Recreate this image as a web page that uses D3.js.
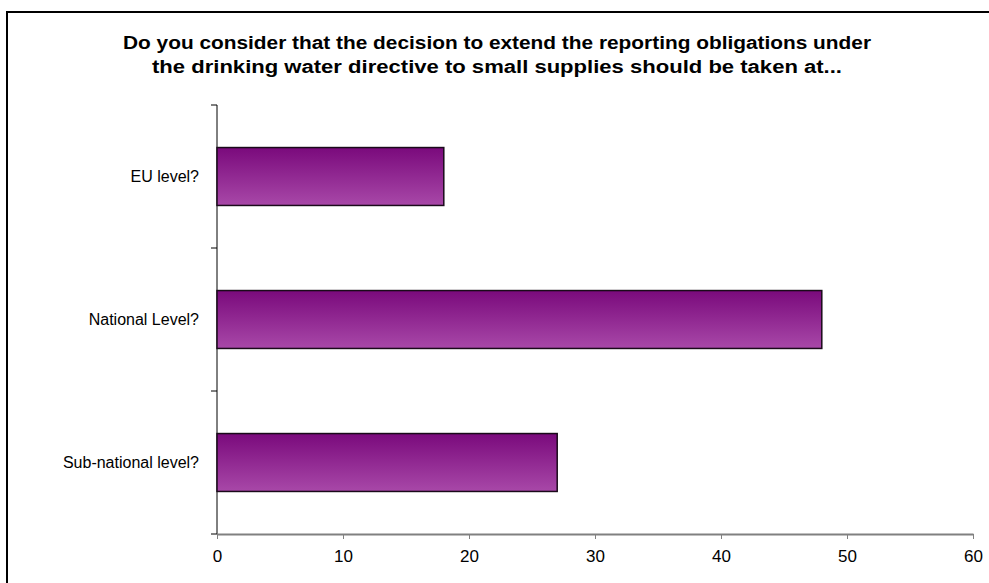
<!DOCTYPE html>
<html>
<head>
<meta charset="utf-8">
<script src="https://cdn.jsdelivr.net/npm/d3@7"></script>
<style>
  html, body { margin: 0; padding: 0; background: #fff; }
  svg { display: block; font-family: "Liberation Sans", Arial, sans-serif; }
</style>
</head>
<body>
<svg id="chart" width="989" height="583"></svg>
<script>
// Survey answers: where the decision should be taken
const categories = ["EU level?", "National Level?", "Sub-national level?"];
const values = [18, 48, 27];
const xTicks = [0, 10, 20, 30, 40, 50, 60];
const titleLines = [
  "Do you consider that the decision to extend the reporting obligations under",
  "the drinking water directive to small supplies should be taken at..."
];
const titleWidths = [748, 690];

const svg = d3.select("#chart");
const W = 989, H = 583;
const plot = { left: 217, right: 973, top: 105, bottom: 534 };

// Outer chart frame (runs past the right and bottom edges)
svg.append("rect")
  .attr("x", 7).attr("y", 12)
  .attr("width", W + 20).attr("height", H + 20)
  .attr("fill", "#fff")
  .attr("stroke", "#000")
  .attr("stroke-width", 2);

// Gradient fill for the bars
const defs = svg.append("defs");
const grad = defs.append("linearGradient")
  .attr("id", "barFill").attr("x1", 0).attr("y1", 0).attr("x2", 0).attr("y2", 1);
grad.append("stop").attr("offset", "0%").attr("stop-color", "#7a0a7c");
grad.append("stop").attr("offset", "100%").attr("stop-color", "#a848a8");

// Title, two centred lines
titleLines.forEach((line, i) => {
  svg.append("text")
    .attr("x", 497 - titleWidths[i] / 2)
    .attr("y", 49 + i * 24)
    .attr("font-weight", "bold")
    .attr("font-size", 18)
    .attr("fill", "#000")
    .attr("textLength", titleWidths[i])
    .attr("lengthAdjust", "spacingAndGlyphs")
    .text(line);
});

const x = d3.scaleLinear().domain([0, 60]).range([plot.left, plot.right]);
const y = d3.scaleBand().domain(categories)
  .range([plot.top, plot.bottom])
  .paddingInner(0.595).paddingOuter(0.2975);

// Y axis: line with ticks at band boundaries
const yLine = svg.append("g");
yLine.append("line")
  .attr("x1", plot.left).attr("x2", plot.left)
  .attr("y1", plot.top).attr("y2", plot.bottom)
  .attr("stroke", "#000").attr("stroke-width", 1);
const step = (plot.bottom - plot.top) / categories.length;
d3.range(categories.length + 1).forEach(i => {
  yLine.append("line")
    .attr("x1", plot.left - 6).attr("x2", plot.left)
    .attr("y1", plot.top + i * step).attr("y2", plot.top + i * step)
    .attr("stroke", "#000").attr("stroke-width", 1);
});

// Category labels
svg.append("g").selectAll("text")
  .data(categories)
  .join("text")
  .attr("x", 199)
  .attr("y", d => y(d) + y.bandwidth() / 2)
  .attr("dy", "0.35em")
  .attr("text-anchor", "end")
  .attr("font-size", 16)
  .attr("fill", "#000")
  .text(d => d);

// Bars
svg.append("g").selectAll("rect")
  .data(values)
  .join("rect")
  .attr("x", x(0))
  .attr("y", (d, i) => y(categories[i]))
  .attr("width", d => x(d) - x(0))
  .attr("height", y.bandwidth())
  .attr("fill", "url(#barFill)")
  .attr("stroke", "#1a0a1a")
  .attr("stroke-width", 1.5);

// X axis
const xAxis = d3.axisBottom(x).tickValues(xTicks).tickSize(5).tickSizeOuter(0).tickPadding(11);
const gx = svg.append("g")
  .attr("transform", `translate(0,${plot.bottom})`)
  .call(xAxis);
gx.select(".domain").attr("stroke", "#808080").attr("stroke-width", 2);
gx.selectAll(".tick line").attr("stroke", "#808080");
gx.selectAll(".tick text")
  .attr("font-size", 17)
  .attr("font-family", "Liberation Sans, Arial, sans-serif")
  .attr("fill", "#000");
</script>
</body>
</html>
